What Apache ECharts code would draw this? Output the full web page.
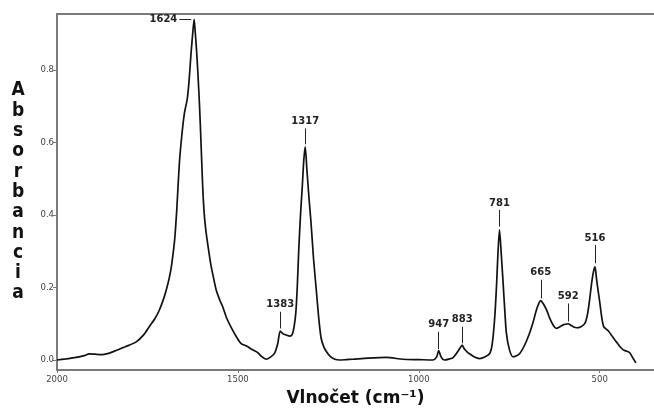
<!DOCTYPE html>
<html lang="sk">
<head>
  <meta charset="UTF-8">
  <script src="https://cdn.jsdelivr.net/npm/echarts@6/dist/echarts.min.js"></script>
  <title>IR spektrum</title>
  <style>
    html, body { margin: 0; padding: 0; background: #fff; }
  </style>
</head>
<body>
  <div id="main" style="width: 654px;height:412px;"></div>
  <script type="text/javascript">
    // spektrum odcitane z obrazka
    var wavenumbers = [2000, 1975, 1947, 1925, 1911, 1895, 1874, 1855, 1837, 1810, 1781, 1760, 1745, 1730, 1717, 1705, 1698, 1690, 1684, 1675, 1669, 1662, 1655, 1648, 1640, 1635, 1630, 1625, 1621, 1618, 1614, 1610, 1606, 1602, 1599, 1596, 1592, 1587, 1582, 1576, 1570, 1560, 1550, 1542, 1530, 1515, 1503, 1492, 1475, 1459, 1445, 1435, 1422, 1410, 1399, 1390, 1383, 1375, 1367, 1357, 1350, 1345, 1340, 1336, 1332, 1327, 1322, 1318, 1314, 1309, 1303, 1298, 1291, 1284, 1277, 1270, 1262, 1255, 1245, 1232, 1219, 1200, 1183, 1140, 1090, 1044, 1000, 961, 951, 945, 940, 934, 928, 915, 906, 896, 886, 880, 874, 866, 858, 846, 832, 818, 804, 797, 790, 785, 781, 777, 772, 767, 762, 758, 750, 740, 730, 721, 708, 694, 684, 675, 668, 663, 656, 647, 638, 628, 620, 610, 601, 592, 587, 580, 572, 564, 552, 541, 534, 528, 522, 517, 513, 509, 505, 500, 494, 489, 483, 476, 470, 463, 454, 445, 435, 425, 417, 408, 400];
    var absorbance = [0.000, 0.003, 0.007, 0.012, 0.017, 0.016, 0.015, 0.019, 0.026, 0.037, 0.050, 0.070, 0.092, 0.113, 0.138, 0.170, 0.193, 0.225, 0.257, 0.330, 0.414, 0.540, 0.620, 0.680, 0.720, 0.770, 0.840, 0.900, 0.940, 0.905, 0.850, 0.780, 0.700, 0.600, 0.520, 0.450, 0.390, 0.345, 0.310, 0.270, 0.239, 0.193, 0.165, 0.147, 0.113, 0.083, 0.062, 0.046, 0.038, 0.028, 0.020, 0.010, 0.002, 0.008, 0.018, 0.045, 0.080, 0.072, 0.069, 0.066, 0.070, 0.090, 0.130, 0.200, 0.300, 0.400, 0.480, 0.550, 0.588, 0.520, 0.440, 0.380, 0.280, 0.200, 0.120, 0.060, 0.035, 0.023, 0.010, 0.002, 0.000, 0.001, 0.002, 0.005, 0.007, 0.002, 0.001, 0.000, 0.008, 0.026, 0.012, 0.002, 0.000, 0.003, 0.006, 0.018, 0.033, 0.041, 0.030, 0.022, 0.016, 0.008, 0.004, 0.008, 0.018, 0.045, 0.120, 0.210, 0.300, 0.359, 0.290, 0.212, 0.130, 0.074, 0.030, 0.009, 0.012, 0.018, 0.040, 0.074, 0.105, 0.138, 0.157, 0.164, 0.155, 0.138, 0.115, 0.095, 0.087, 0.092, 0.097, 0.099, 0.100, 0.096, 0.091, 0.089, 0.092, 0.101, 0.125, 0.166, 0.215, 0.245, 0.257, 0.225, 0.195, 0.160, 0.115, 0.092, 0.086, 0.080, 0.072, 0.062, 0.050, 0.038, 0.028, 0.024, 0.020, 0.005, -0.008];

    // popisky piku a ich ciarky
    var peakNames = ['1624', '1383', '1317', '947', '883', '781', '665', '592', '516'];
    var peakStartX = [1629, 1383, 1314, 945, 880, 777, 663, 587, 513];
    var peakStartY = [0.940, 0.087, 0.595, 0.030, 0.046, 0.368, 0.170, 0.106, 0.267];
    var peakEndX = [1662, 1383, 1314, 945, 880, 777, 663, 587, 513];
    var peakEndY = [0.940, 0.133, 0.639, 0.078, 0.092, 0.414, 0.221, 0.156, 0.317];

    var yTicks = [0, 0.2, 0.4, 0.6, 0.8];
    var xTicks = [2000, 1500, 1000, 500];

    var myChart = echarts.init(document.getElementById('main'));

    var points = wavenumbers.map(function (w, i) { return [w, absorbance[i]]; });
    var peakLines = peakNames.map(function (n, i) {
      return [
        { name: n, coord: [peakStartX[i], peakStartY[i]] },
        { coord: [peakEndX[i], peakEndY[i]] }
      ];
    });

    var axisGray = '#7a7a7a';

    var option = {
      animation: false,
      grid: { left: 57, right: 0, top: 14, bottom: 42, outerBoundsMode: 'none' },
      xAxis: [{
        type: 'value',
        min: 350,
        max: 2000,
        inverse: true,
        name: 'Vlnočet (cm⁻¹)',
        nameLocation: 'middle',
        nameGap: 20,
        nameTextStyle: { fontFamily: 'DejaVu Sans', fontWeight: 'bold', fontSize: 17, color: '#111' },
        axisLine: { show: true, onZero: false, lineStyle: { color: axisGray, width: 2 } },
        axisTick: { show: true, length: 3, customValues: xTicks, lineStyle: { color: axisGray } },
        axisLabel: {
          customValues: xTicks, margin: 5,
          formatter: function (v) { return String(v); },
          fontFamily: 'DejaVu Sans', fontSize: 8.5, color: '#444'
        },
        splitLine: { show: false }
      }, {
        // horny okraj
        type: 'value', position: 'top', min: 350, max: 2000, inverse: true,
        axisLine: { show: true, onZero: false, lineStyle: { color: axisGray, width: 2 } },
        axisTick: { show: false }, axisLabel: { show: false }, splitLine: { show: false }
      }],
      yAxis: {
        type: 'value',
        min: -0.0276,
        max: 0.9545,
        name: 'Absorbancia'.split('').join('\n'),
        nameLocation: 'middle',
        nameRotate: 0,
        nameGap: 39,
        nameTextStyle: {
          fontFamily: 'DejaVu Sans Condensed, DejaVu Sans', fontWeight: 'bold', fontSize: 19,
          color: '#111', align: 'center', verticalAlign: 'middle', lineHeight: 20.3
        },
        axisLine: { show: true, onZero: false, lineStyle: { color: axisGray, width: 2 } },
        axisTick: { show: true, length: 4, customValues: yTicks, lineStyle: { color: axisGray } },
        axisLabel: {
          customValues: yTicks, margin: 3,
          formatter: function (v) { return v.toFixed(1); },
          fontFamily: 'DejaVu Sans', fontSize: 8.5, color: '#444'
        },
        splitLine: { show: false }
      },
      series: [{
        type: 'line',
        data: points,
        showSymbol: false,
        smooth: 0.25,
        lineStyle: { color: '#111', width: 1.7 },
        markLine: {
          silent: true,
          symbol: ['none', 'none'],
          lineStyle: { color: '#222', width: 1, type: 'solid' },
          label: {
            show: true, position: 'end', distance: 2, formatter: '{b}',
            fontFamily: 'DejaVu Sans', fontWeight: 'bold', fontSize: 10, color: '#222'
          },
          emphasis: { disabled: true },
          data: peakLines
        }
      }]
    };
    myChart.setOption(option);
  </script>
</body>
</html>
